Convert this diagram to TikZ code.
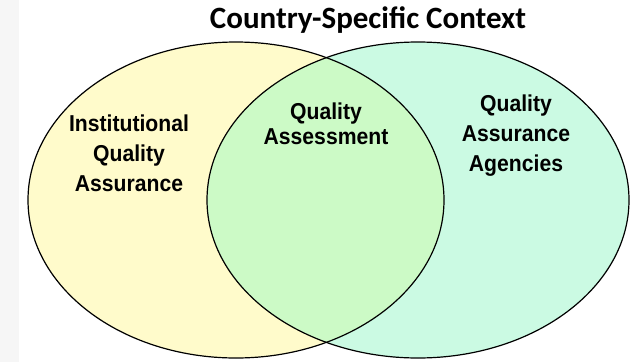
\documentclass[tikz,border=0pt]{standalone}
\usepackage{fontspec}
\setmainfont{Liberation Sans}
\newfontfamily\titlefont{Carlito}
\newfontfamily\labelfont{Liberation Sans}[FakeStretch=0.92]
\usetikzlibrary{positioning}

\definecolor{iqayellow}{HTML}{FFFBCB}
\definecolor{qaamint}{HTML}{CBFAE3}
\definecolor{qagreen}{HTML}{CCFAC6}

\begin{document}
\begin{tikzpicture}[x=1pt, y=-1pt]
\tikzstyle{every node}=[inner sep=0pt]
\tikzstyle{label}=[font=\labelfont\bfseries\fontsize{23}{30}\selectfont, align=center, anchor=north]
\tikzstyle{circle line}=[draw=black, line width=1.2pt]

\useasboundingbox (0,0) rectangle (631,362);
\fill[gray!7] (0,0) rectangle (19,362);

\fill[iqayellow] (236,200) ellipse [x radius=208, y radius=158];
\fill[qaamint] (418,200) ellipse [x radius=211, y radius=158];
\begin{scope}
\clip (236,200) ellipse [x radius=208, y radius=158];
\fill[qagreen] (418,200) ellipse [x radius=211, y radius=158];
\end{scope}
\draw[circle line] (236,200) ellipse [x radius=208, y radius=158];
\draw[circle line] (418,200) ellipse [x radius=211, y radius=158];

\node[font=\titlefont\bfseries\fontsize{31}{36}\selectfont, anchor=base] (title) at (368,28) {Country-Specific Context};

\node[label] (iqa) at (129,115) {Institutional\\Quality\\Assurance};
\node[label, font=\labelfont\bfseries\fontsize{23}{25}\selectfont] (qa) at (326,103) {Quality\\Assessment};
\node[label] (qaa) at (516,95) {Quality\\Assurance\\Agencies};
\end{tikzpicture}
\end{document}
